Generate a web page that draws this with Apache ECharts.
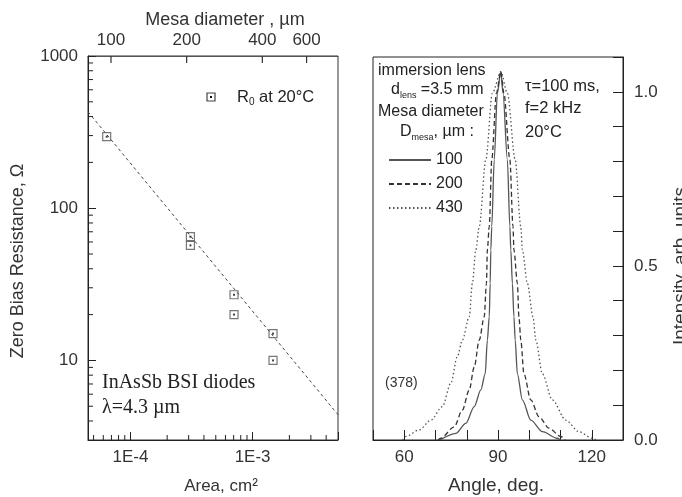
<!DOCTYPE html>
<html><head><meta charset="utf-8">
<script src="https://cdn.jsdelivr.net/npm/echarts@6/dist/echarts.min.js"></script>
<style>html,body{margin:0;padding:0;background:#fff}#c{width:682px;height:497px}</style>
</head><body><div id="c"></div>
<script>
// ---- Left panel data ----
const areaCm2 = [6.4e-5, 3.1e-4, 3.1e-4, 7.05e-4, 7.05e-4, 1.47e-3, 1.47e-3];
const r0Ohm   = [295, 65, 57, 27, 20, 15, 10];
const fitArea = [4.5e-5, 5e-3];
const fitR    = [430, 4.4];
const areaMinorTicks = [5e-5,6e-5,7e-5,8e-5,9e-5,2e-4,3e-4,4e-4,5e-4,6e-4,7e-4,8e-4,9e-4,2e-3,3e-3,4e-3];
const resMinorTicks  = [4,5,6,7,8,9,20,30,40,50,60,70,80,90,200,300,400,500,600,700,800,900];
const mesaTicks = [100, 200, 400, 600];

// ---- Right panel data ----
const angle100 = [71.5,76.5,79.7,82.4,84.5,85.9,86.6,87.2,87.5,87.7,88.0,88.8,89.8,90.9,91.6,93.0,93.8,94.1,94.6,95.1,95.5,96.2,97.8,100.5,104.2,109.0,110.0];
const int100   = [0,0.019,0.048,0.096,0.144,0.19,0.287,0.354,0.45,0.546,0.613,0.805,0.996,1.058,0.996,0.805,0.613,0.546,0.45,0.354,0.287,0.19,0.115,0.057,0.024,0.005,0];
const angle200 = [70.8,71.7,76.0,78.6,80.8,82.4,84.0,85.6,86.3,86.6,87.2,88.0,89.5,90.9,91.9,93.8,94.8,95.1,96.2,96.7,97.3,98.3,100.5,103.1,106.3,110.1,111.5];
const int200   = [0,0.005,0.038,0.086,0.144,0.21,0.287,0.354,0.45,0.546,0.613,0.805,0.996,1.058,0.996,0.805,0.613,0.546,0.45,0.354,0.287,0.19,0.115,0.067,0.034,0.01,0];
const angle430 = [59.5,60.5,64.8,68.5,72.2,74.9,77.0,78.6,80.8,81.8,82.9,84.0,86.1,88.2,90.9,93.0,95.5,97.3,97.8,99.4,101.2,102.1,104.2,107.4,111.7,115.9,120.2,121.5];
const int430   = [0,0.01,0.029,0.057,0.096,0.163,0.24,0.287,0.354,0.45,0.546,0.613,0.805,0.996,1.058,0.996,0.805,0.613,0.546,0.45,0.354,0.287,0.19,0.115,0.057,0.024,0.005,0];
const angleTickLabels = [60, 90, 120];
const intTickLabels = [0, 0.5, 1.0];

const zip = (a, b) => a.map((v, i) => [v, b[i]]);
const FF = "'Liberation Sans', Arial, sans-serif";
const SERIF = "'Liberation Serif', 'Times New Roman', serif";
const INK = '#222';

const chart = echarts.init(document.getElementById('c'), null, {renderer: 'canvas'});

function powLabel(v) {
  const l = Math.log10(v), r = Math.round(l);
  return Math.abs(l - r) < 1e-6 ? r : null;
}
function txt(x, y, text, size, opts) {
  opts = opts || {};
  const align = opts.align || 'left';
  return {type: 'text', x: x, y: y, rotation: opts.rotation || 0,
    style: {text: text, font: size + 'px ' + (opts.family || FF), fill: opts.fill || INK,
      align: align, verticalAlign: 'middle', textAlign: align, textVerticalAlign: 'middle'}};
}
function subTxt(x, y, text, size, subSize) {
  return {type: 'text', x: x, y: y - 10, style: {text: text, align: 'left', verticalAlign: 'top', textAlign: 'left', textVerticalAlign: 'top',
    rich: {a: {fontSize: size, fontFamily: FF, color: INK, fill: INK, lineHeight: 20},
           s: {fontSize: subSize, fontFamily: FF, color: INK, fill: INK, lineHeight: 6, verticalAlign: 'bottom'}}}};
}

const option = {
  animation: false,
  backgroundColor: '#fff',
  grid: [
    {left: 88, top: 56, width: 250, height: 384, show: true, borderColor: '#333', borderWidth: 1, backgroundColor: 'transparent'},
    {left: 373, top: 57, width: 250, height: 383, show: true, borderColor: '#222', borderWidth: 1, backgroundColor: 'transparent'}
  ],
  xAxis: [
    {type: 'log', gridIndex: 0, min: 4.5e-5, max: 5e-3, position: 'bottom',
     axisLine: {show: true, lineStyle: {color: '#222', width: 1}},
     axisTick: {show: true, inside: true, length: 8, lineStyle: {color: '#222'}},
     axisLabel: {margin: 9, color: '#333', fontSize: 17, fontFamily: FF,
       formatter: v => { const r = powLabel(v); return r === null ? '' : '1E' + r; }},
     splitLine: {show: false}, minorTick: {show: false}},
    {type: 'log', gridIndex: 0, min: 81, max: 800, position: 'top',
     axisLine: {show: true, lineStyle: {color: '#555'}}, axisTick: {show: false},
     axisLabel: {show: false}, splitLine: {show: false}},
    {type: 'value', gridIndex: 1, min: 50, max: 130, interval: 10, position: 'bottom',
     axisLine: {show: true, lineStyle: {color: '#222'}},
     axisTick: {show: true, inside: true, length: 10, lineStyle: {color: '#222'}},
     axisLabel: {margin: 9, color: '#333', fontSize: 17, fontFamily: FF,
       formatter: v => angleTickLabels.includes(Math.round(v)) ? String(Math.round(v)) : ''},
     splitLine: {show: false}}
  ],
  yAxis: [
    {type: 'log', gridIndex: 0, min: 3, max: 1000, position: 'left',
     axisLine: {show: true, lineStyle: {color: '#222'}},
     axisTick: {show: true, inside: true, length: 8, lineStyle: {color: '#222'}},
     axisLabel: {margin: 10, color: '#333', fontSize: 17, fontFamily: FF,
       formatter: v => { const r = powLabel(v); return r === null ? '' : String(Math.round(Math.pow(10, r))); }},
     splitLine: {show: false}},
    {type: 'value', gridIndex: 1, min: 0, max: 1.1, interval: 0.1, position: 'right',
     axisLine: {show: true, lineStyle: {color: '#222'}},
     axisTick: {show: true, inside: true, length: 10, lineStyle: {color: '#222'}},
     axisLabel: {margin: 11, color: '#333', fontSize: 17, fontFamily: FF,
       formatter: v => intTickLabels.some(t => Math.abs(t - v) < 1e-6) ? v.toFixed(1) : ''},
     splitLine: {show: false}}
  ],
  legend: {
    data: ['100', '200', '430'], orient: 'vertical', left: 388, top: 152,
    itemWidth: 42, itemHeight: 14, itemGap: 8, padding: 0, selectedMode: false,
    itemStyle: {opacity: 0},
    textStyle: {fontSize: 16, color: INK, fontFamily: FF}
  },
  series: [
    {type: 'line', xAxisIndex: 0, yAxisIndex: 0, data: zip(fitArea, fitR), symbol: 'none', silent: true,
     lineStyle: {type: [3, 3], color: '#444', width: 1}, z: 2},
    {type: 'scatter', xAxisIndex: 0, yAxisIndex: 0, data: zip(areaCm2, r0Ohm), symbol: 'rect', symbolSize: 8, silent: true,
     itemStyle: {color: 'rgba(0,0,0,0)', borderColor: '#555', borderWidth: 1.2}, z: 3},
    {type: 'scatter', xAxisIndex: 0, yAxisIndex: 0, data: zip(areaCm2, r0Ohm), symbol: 'rect', symbolSize: 2, silent: true,
     itemStyle: {color: '#111'}, z: 4},
    {type: 'custom', xAxisIndex: 0, yAxisIndex: 0, silent: true, data: areaMinorTicks.map(v => [v, 3]),
     renderItem: (p, api) => { const c = api.coord([api.value(0), api.value(1)]);
       return {type: 'line', shape: {x1: c[0], y1: c[1], x2: c[0], y2: c[1] - 5}, style: {stroke: '#222', lineWidth: 1}}; }},
    {type: 'custom', xAxisIndex: 0, yAxisIndex: 0, silent: true, data: resMinorTicks.map(v => [4.5e-5, v]),
     renderItem: (p, api) => { const c = api.coord([api.value(0), api.value(1)]);
       return {type: 'line', shape: {x1: c[0], y1: c[1], x2: c[0] + 5, y2: c[1]}, style: {stroke: '#222', lineWidth: 1}}; }},
    {type: 'custom', xAxisIndex: 1, yAxisIndex: 0, silent: true, data: mesaTicks.map(v => [v, 1000]),
     renderItem: (p, api) => { const c = api.coord([api.value(0), api.value(1)]);
       return {type: 'group', children: [
         {type: 'line', shape: {x1: c[0], y1: c[1], x2: c[0], y2: c[1] + 7}, style: {stroke: '#333', lineWidth: 1.2}},
         {type: 'text', style: {text: String(api.value(0)), x: c[0], y: c[1] - 16, align: 'center', verticalAlign: 'middle',
           textAlign: 'center', textVerticalAlign: 'middle', font: '17px ' + FF, fill: '#333'}}
       ]}; }},
    {name: '100', type: 'line', xAxisIndex: 2, yAxisIndex: 1, data: zip(angle100, int100), symbol: 'none', smooth: 0.3, smoothMonotone: 'x',
     lineStyle: {type: 'solid', color: '#555', width: 1.3}, itemStyle: {color: '#333'}},
    {name: '200', type: 'line', xAxisIndex: 2, yAxisIndex: 1, data: zip(angle200, int200), symbol: 'none', smooth: 0.3, smoothMonotone: 'x',
     lineStyle: {type: [5, 3], color: '#333', width: 1.3}, itemStyle: {color: '#333'}},
    {name: '430', type: 'line', xAxisIndex: 2, yAxisIndex: 1, data: zip(angle430, int430), symbol: 'none', smooth: 0.3, smoothMonotone: 'x',
     lineStyle: {type: [1.5, 2.5], color: '#555', width: 1.3}, itemStyle: {color: '#555'}}
  ],
  graphic: [
    // left panel texts
    txt(225, 20, 'Mesa diameter , µm', 18, {align: 'center', fill: '#333'}),
    txt(221, 486, 'Area, cm²', 17, {align: 'center', fill: '#333'}),
    txt(18, 261, 'Zero Bias Resistance, Ω', 18, {align: 'center', fill: '#333', rotation: Math.PI / 2}),
    {type: 'rect', shape: {x: 207, y: 93, width: 8, height: 8}, style: {fill: 'none', stroke: '#444', lineWidth: 1.2}},
    {type: 'rect', shape: {x: 210, y: 96, width: 2, height: 2}, style: {fill: '#111'}},
    {type: 'text', x: 237, y: 87, style: {text: '{a|R}{s|0}{a| at 20°C}', align: 'left', verticalAlign: 'top', textAlign: 'left', textVerticalAlign: 'top',
      rich: {a: {fontSize: 16.5, fontFamily: FF, fill: '#222', color: '#222', lineHeight: 20}, s: {fontSize: 10, fontFamily: FF, color: '#222', fill: '#222', lineHeight: 6, verticalAlign: 'bottom'}}}},
    txt(102, 383, 'InAsSb BSI diodes', 20, {family: SERIF}),
    txt(102, 408, 'λ=4.3 µm', 20, {family: SERIF}),
    // right panel texts
    txt(378, 71, 'immersion lens', 16),
    subTxt(391, 90, '{a|d}{s|lens}{a| =3.5 mm}', 16, 9),
    txt(378, 112, 'Mesa diameter', 16),
    subTxt(400, 132, '{a|D}{s|mesa}{a|, µm :}', 16, 9),
    txt(525, 86, 'τ=100 ms,', 16.5),
    txt(525, 108, 'f=2 kHz', 16.5),
    txt(525, 132, '20°C', 16.5),
    txt(385, 383, '(378)', 14, {fill: '#333'}),
    txt(496, 486, 'Angle, deg.', 19, {align: 'center', fill: '#333'}),
    txt(681, 266, 'Intensity, arb. units', 19, {align: 'center', fill: '#333', rotation: Math.PI / 2})
  ]
};
chart.setOption(option);
</script>
</body></html>
